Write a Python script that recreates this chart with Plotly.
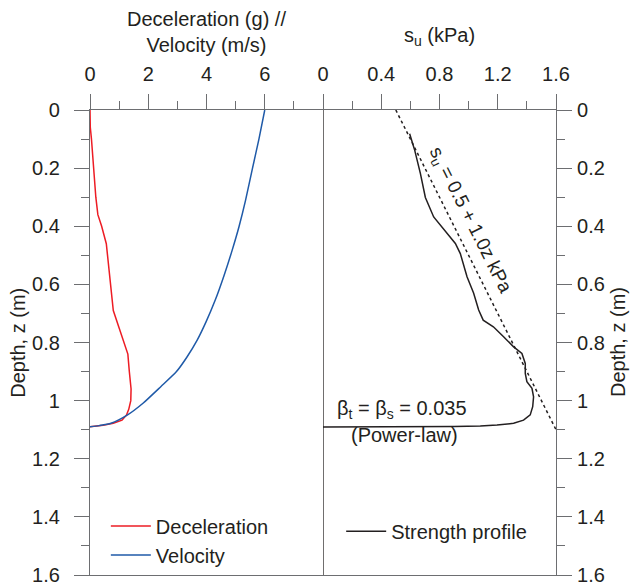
import plotly.graph_objects as go

# ---------------- data ----------------
# Left panel: depth (m) vs deceleration (g) and velocity (m/s)
vel_depth = [0, 0.1, 0.2, 0.311, 0.4, 0.483, 0.57, 0.654, 0.73, 0.792, 0.85, 0.9, 0.952, 1.009, 1.049, 1.078, 1.086, 1.09]
velocity = [6.0, 5.8, 5.58, 5.34, 5.12, 4.88, 4.6, 4.3, 3.98, 3.68, 3.33, 2.97, 2.43, 1.82, 1.29, 0.72, 0.32, 0.0]

dec_depth = [0, 0.06, 0.1, 0.2, 0.3, 0.36, 0.4, 0.46, 0.5, 0.56, 0.6, 0.69, 0.75, 0.815, 0.84, 0.9, 0.96, 1.0, 1.03, 1.05, 1.067, 1.078, 1.085, 1.09]
deceleration = [0, 0.01, 0.05, 0.12, 0.2, 0.27, 0.4, 0.56, 0.6, 0.67, 0.7, 0.8, 1.0, 1.21, 1.3, 1.35, 1.41, 1.40, 1.33, 1.25, 1.1, 0.8, 0.45, 0.0]

# Right panel: undrained strength profile
su_depth = [0.082, 0.139, 0.219, 0.301, 0.368, 0.425, 0.459, 0.494, 0.574, 0.63, 0.688, 0.723, 0.746, 0.78,
            0.815, 0.838, 0.872, 0.906, 0.935, 0.958, 0.987, 1.021, 1.049, 1.067, 1.078, 1.084, 1.087,
            1.089, 1.0905, 1.091]
su_profile = [0.595, 0.63, 0.669, 0.703, 0.76, 0.851, 0.909, 0.943, 0.989, 1.034, 1.069, 1.10, 1.17, 1.24,
              1.309, 1.366, 1.389, 1.389, 1.40, 1.435, 1.446, 1.44, 1.423, 1.377, 1.309, 1.195, 1.08,
              0.9, 0.44, 0.0]

# Fitted line su = 0.5 + 1.0 z
fit_depth = [0.0, 1.1]
fit_su = [0.5, 1.6]

# Tick labels
left_x_ticks = [0, 2, 4, 6, 8]
left_x_labels = ["0", "2", "4", "6", ""]
right_x_ticks = [0, 0.4, 0.8, 1.2, 1.6]
right_x_labels = ["0", "0.4", "0.8", "1.2", "1.6"]
depth_ticks = [0, 0.2, 0.4, 0.6, 0.8, 1.0, 1.2, 1.4, 1.6]
depth_labels = ["0", "0.2", "0.4", "0.6", "0.8", "1", "1.2", "1.4", "1.6"]

# ---------------- styling ----------------
FONT = "Liberation Sans, Arial, Helvetica, sans-serif"
TXT = "#231f20"
AX = "#6d6e71"
FS = 20

fig = go.Figure()

fig.add_trace(go.Scatter(x=deceleration, y=dec_depth, mode="lines", name="Deceleration",
                         line=dict(color="#ed1c24", width=1.5), xaxis="x", yaxis="y", legend="legend"))
fig.add_trace(go.Scatter(x=velocity, y=vel_depth, mode="lines", name="Velocity",
                         line=dict(color="#1f5aa8", width=1.5, shape="spline", smoothing=0.6),
                         xaxis="x", yaxis="y", legend="legend"))
fig.add_trace(go.Scatter(x=fit_su, y=fit_depth, mode="lines", showlegend=False,
                         line=dict(color="#231f20", width=1.5, dash="dot"), xaxis="x2", yaxis="y2"))
fig.add_trace(go.Scatter(x=su_profile, y=su_depth, mode="lines", name="Strength profile",
                         line=dict(color="#231f20", width=1.5), xaxis="x2", yaxis="y2", legend="legend2"))

common_x = dict(side="top", showline=True, linecolor=AX, linewidth=1.2, mirror=True,
                ticks="outside", ticklen=15, tickcolor=AX, tickwidth=1.2,
                showgrid=False, zeroline=False,
                tickfont=dict(family=FONT, size=FS, color=TXT), ticklabelstandoff=5)
common_y = dict(showline=True, linecolor=AX, linewidth=1.2,
                ticks="outside", ticklen=15, tickcolor=AX, tickwidth=1.2,
                showgrid=False, zeroline=False, range=[1.6, 0],
                tickvals=depth_ticks, ticktext=depth_labels, ticklabeloverflow="allow",
                tickfont=dict(family=FONT, size=FS, color=TXT),
                minor=dict(ticks="outside", ticklen=8, tickcolor=AX, tickwidth=1.2, dtick=0.1, tick0=0))

fig.update_layout(
    width=631, height=583,
    margin=dict(l=90, r=75, t=110, b=8, autoexpand=False),
    paper_bgcolor="white", plot_bgcolor="white",
    font=dict(family=FONT, size=FS, color=TXT),
    xaxis=dict(domain=[0, 0.5], range=[0, 8], anchor="y",
               tickvals=left_x_ticks, ticktext=left_x_labels,
               minor=dict(ticks="outside", ticklen=8, tickcolor=AX, tickwidth=1.2, dtick=1, tick0=0),
               **common_x),
    xaxis2=dict(domain=[0.5, 1], range=[0, 1.6], anchor="y2",
                tickvals=right_x_ticks, ticktext=right_x_labels,
                minor=dict(ticks="outside", ticklen=8, tickcolor=AX, tickwidth=1.2, dtick=0.2, tick0=0),
                **common_x),
    yaxis=dict(domain=[0, 1], anchor="x", side="left", ticklabelstandoff=10, **common_y),
    yaxis2=dict(domain=[0, 1], anchor="x2", side="right", ticklabelstandoff=1, **common_y),
    legend=dict(x=0.034, y=0.074, xanchor="left", yanchor="middle", bgcolor="rgba(0,0,0,0)",
                font=dict(family=FONT, size=FS, color=TXT), tracegroupgap=0, itemwidth=40),
    legend2=dict(x=0.539, y=0.094, xanchor="left", yanchor="middle", bgcolor="rgba(0,0,0,0)",
                 font=dict(family=FONT, size=FS, color=TXT), itemwidth=40),
    shapes=[dict(type="line", xref="x2", yref="y2 domain", x0=0, x1=0, y0=0, y1=1,
                 line=dict(color="#231f20", width=1.3))],
    annotations=[
        dict(text="Deceleration (g) //<br>Velocity (m/s)", xref="paper", yref="paper",
             x=0.25, y=1.167, showarrow=False, xanchor="center", yanchor="middle",
             font=dict(family=FONT, size=FS, color=TXT)),
        dict(text="s<sub>u</sub> (kPa)", xref="paper", yref="paper",
             x=0.75, y=1.157, showarrow=False, xanchor="center", yanchor="middle",
             font=dict(family=FONT, size=FS, color=TXT)),
        dict(text="Depth, z (m)", xref="paper", yref="paper", x=-0.156, y=0.50,
             textangle=-90, showarrow=False, xanchor="center", yanchor="middle",
             font=dict(family=FONT, size=FS, color=TXT)),
        dict(text="Depth, z (m)", xref="paper", yref="paper", x=1.132, y=0.50,
             textangle=-90, showarrow=False, xanchor="center", yanchor="middle",
             font=dict(family=FONT, size=FS, color=TXT)),
        dict(text="s<sub>u</sub> = 0.5 + 1.0z kPa", xref="x2", yref="y2", x=1.005, y=0.38,
             textangle=63.4, showarrow=False, xanchor="center", yanchor="middle",
             font=dict(family=FONT, size=19, color=TXT)),
        dict(text="β<sub>t</sub> = β<sub>s</sub> = 0.035", xref="x2", yref="y2", x=0.54, y=1.032,
             showarrow=False, xanchor="center", yanchor="middle",
             font=dict(family=FONT, size=FS, color=TXT)),
        dict(text="(Power-law)", xref="x2", yref="y2", x=0.56, y=1.118,
             showarrow=False, xanchor="center", yanchor="middle",
             font=dict(family=FONT, size=FS, color=TXT)),
    ],
)

fig.write_html("out.html", config={"displayModeBar": False},
               post_script="document.body.style.margin='0px';")
